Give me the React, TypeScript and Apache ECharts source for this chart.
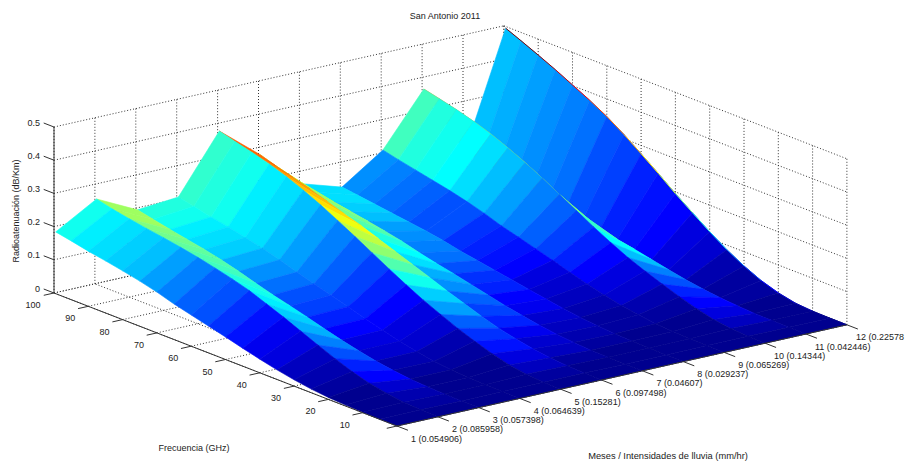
import React, { useEffect, useRef } from "react";
import * as echarts from "echarts";

const title = "San Antonio 2011";
const zName = "Radioatenuación (dB/Km)";
const fName = "Frecuencia (GHz)";
const mName = "Meses / Intensidades de lluvia (mm/hr)";
const months = [1, 2, 3, 4, 5, 6, 7, 8, 9, 10, 11, 12];
const monthLabels = ["1 (0.054906)", "2 (0.085958)", "3 (0.057398)", "4 (0.064639)", "5 (0.15281)", "6 (0.097498)", "7 (0.04607)", "8 (0.029237)", "9 (0.065269)", "10 (0.14344)", "11 (0.042446)", "12 (0.22578"];
const freqTicks = [10, 20, 30, 40, 50, 60, 70, 80, 90, 100];
const zTicks = [0, 0.1, 0.2, 0.3, 0.4, 0.5];
const freqGrid = [0, 5, 10, 15, 20, 25, 30, 35, 40, 45, 50, 55, 60, 65, 70, 75, 80, 85, 90, 95, 99.5];

const month1 = [0, 0, 0.001, 0.003, 0.006, 0.011, 0.019, 0.029, 0.041, 0.054, 0.068, 0.081, 0.094, 0.107, 0.123, 0.136, 0.147, 0.157, 0.166, 0.177, 0.186];
const month2 = [0, 0.001, 0.004, 0.011, 0.021, 0.036, 0.055, 0.076, 0.098, 0.12, 0.14, 0.16, 0.175, 0.188, 0.2, 0.21, 0.219, 0.227, 0.236, 0.246, 0.2575];
const month3 = [0, 0, 0.001, 0.003, 0.006, 0.012, 0.02, 0.031, 0.043, 0.057, 0.072, 0.086, 0.099, 0.114, 0.13, 0.144, 0.156, 0.166, 0.176, 0.187, 0.197];
const month4 = [0, 0.001, 0.001, 0.003, 0.006, 0.012, 0.021, 0.032, 0.046, 0.06, 0.076, 0.09, 0.105, 0.12, 0.137, 0.152, 0.164, 0.176, 0.186, 0.198, 0.208];
const month5 = [0, 0.001, 0.005, 0.013, 0.027, 0.044, 0.063, 0.085, 0.108, 0.134, 0.162, 0.191, 0.22, 0.248, 0.275, 0.299, 0.32, 0.338, 0.353, 0.366, 0.379];
const month6 = [0, 0.001, 0.003, 0.007, 0.014, 0.024, 0.036, 0.052, 0.07, 0.088, 0.108, 0.127, 0.146, 0.165, 0.184, 0.2, 0.218, 0.235, 0.25, 0.265, 0.28];
const month7 = [0, 0, 0.001, 0.002, 0.005, 0.01, 0.017, 0.026, 0.036, 0.048, 0.06, 0.072, 0.083, 0.095, 0.109, 0.12, 0.13, 0.139, 0.148, 0.157, 0.165];
const month8 = [0, 0, 0.001, 0.002, 0.004, 0.008, 0.013, 0.02, 0.028, 0.037, 0.046, 0.055, 0.064, 0.073, 0.084, 0.093, 0.1, 0.107, 0.114, 0.121, 0.127];
const month9 = [0, 0.001, 0.001, 0.003, 0.006, 0.013, 0.021, 0.033, 0.046, 0.061, 0.077, 0.092, 0.107, 0.121, 0.139, 0.154, 0.167, 0.178, 0.189, 0.2, 0.211];
const month10 = [0, 0.001, 0.004, 0.011, 0.024, 0.04, 0.058, 0.077, 0.098, 0.123, 0.15, 0.179, 0.208, 0.237, 0.264, 0.288, 0.31, 0.328, 0.343, 0.356, 0.367];
const month11 = [0, 0, 0.001, 0.002, 0.005, 0.009, 0.015, 0.023, 0.033, 0.044, 0.055, 0.065, 0.076, 0.086, 0.099, 0.11, 0.119, 0.127, 0.134, 0.143, 0.15];
const month12 = [0, 0, 0.001, 0.005, 0.016, 0.033, 0.057, 0.086, 0.12, 0.157, 0.195, 0.236, 0.275, 0.313, 0.347, 0.376, 0.402, 0.428, 0.452, 0.475, 0.495];
const surface = [month1, month2, month3, month4, month5, month6, month7, month8, month9, month10, month11, month12];

const project = (m: number, f: number, z: number): number[] => [
  397 + 40.9 * (m - 1) - 3.43 * f,
  426 - 9.2 * (m - 1) - 1.33 * f - 332 * z,
];

const clamp = (v: number) => Math.max(0, Math.min(1, v));
const jet = (z: number): string => {
  const idx = Math.min(63, Math.floor((z / 0.495) * 64));
  const v = (idx + 1) / 64;
  const r = clamp(Math.min(4 * v - 1.5, -4 * v + 4.5));
  const g = clamp(Math.min(4 * v - 0.5, -4 * v + 3.5));
  const b = clamp(Math.min(4 * v + 0.5, -4 * v + 2.5));
  return `rgb(${Math.round(r * 255)},${Math.round(g * 255)},${Math.round(b * 255)})`;
};
const last = freqGrid.length - 1;
const colorAt = (i: number, j: number) => {
  const falling = i + 1 < surface.length && surface[i + 1][j + 1] < surface[i][j + 1];
  return jet(surface[i][Math.min(j + (falling || i === 11 ? 2 : 1), last)]);
};

const FONT = "9px 'Liberation Sans', Arial, sans-serif";
const TEXT = "#222";

export default function App() {
  const ref = useRef<HTMLDivElement>(null);
  useEffect(() => {
    if (!ref.current) return;
    const chart = echarts.init(ref.current, undefined, { renderer: "svg" });

    const gridLines: number[][] = [];
    const fAll = [0, ...freqTicks];
    months.forEach((m) => {
      gridLines.push([m, 0, 0, m, 100, 0]);
      gridLines.push([m, 100, 0, m, 100, 0.5]);
    });
    fAll.forEach((f) => {
      gridLines.push([1, f, 0, 12, f, 0]);
      gridLines.push([12, f, 0, 12, f, 0.5]);
    });
    zTicks.forEach((z) => {
      gridLines.push([1, 100, z, 12, 100, z]);
      gridLines.push([12, 100, z, 12, 0, z]);
    });

    const quads: number[][] = [];
    for (let i = months.length - 2; i >= 0; i--) {
      for (let j = freqGrid.length - 2; j >= 0; j--) quads.push([i, j]);
    }
    const edge: number[][] = [];
    for (let j = freqGrid.length - 2; j >= 0; j--) edge.push([j]);

    const solid: number[][] = [
      [1, 100, 0, 1, 100, 0.5],
      [1, 100, 0, 1, 0, 0],
      [1, 0, 0, 12, 0, 0],
    ];
    zTicks.forEach((z) => solid.push([1, 100, z, 1, 103, z]));
    [0, ...freqTicks].forEach((f) => solid.push([1, f, 0, 0.75, f, 0]));
    months.forEach((m) => solid.push([m, 0, 0, m, -3.2, 0]));

    const lineItem = (api: any, style: any) => {
      const a = api.coord(project(api.value(0), api.value(1), api.value(2)));
      const b = api.coord(project(api.value(3), api.value(4), api.value(5)));
      return { type: "line", shape: { x1: a[0], y1: a[1], x2: b[0], y2: b[1] }, style, silent: true };
    };

    const labels: any[] = [];
    zTicks.forEach((z) => {
      const p = project(1, 100, z);
      labels.push({ text: String(z), x: p[0] - 14, y: p[1] - 4.5, align: "right" });
    });
    freqTicks.forEach((f) => {
      const p = project(1, f, 0);
      labels.push({ text: String(f), x: p[0] - (f === 100 ? 21 : 18), y: p[1] + 12, align: "center" });
    });
    months.forEach((m, i) => {
      const p = project(m, 0, 0);
      labels.push({ text: monthLabels[i], x: p[0] + (m > 9 ? 9 : 14), y: p[1] + 12.5, align: "left" });
    });
    labels.push({ text: fName, x: 194, y: 448, align: "center" });
    labels.push({ text: mName, x: 668, y: 456, align: "center", font: "9.3px 'Liberation Sans', Arial, sans-serif" });

    chart.setOption({
      animation: false,
      backgroundColor: "#fff",
      title: {
        text: title,
        left: 440,
        top: 6,
        textAlign: "center",
        textStyle: { fontFamily: "'Liberation Sans', Arial, sans-serif", fontSize: 9, fontWeight: "normal", color: TEXT },
      },
      grid: { left: 0, right: 0, top: 0, bottom: 0 },
      xAxis: { type: "value", min: 0, max: 907, show: false },
      yAxis: { type: "value", min: 0, max: 462, inverse: true, show: false },
      series: [
        {
          type: "custom",
          coordinateSystem: "cartesian2d",
          clip: false,
          silent: true,
          z: 1,
          data: gridLines,
          renderItem: (_p: any, api: any) =>
            lineItem(api, { stroke: "#333", lineWidth: 1, lineDash: [1, 2] }),
        },
        {
          type: "custom",
          coordinateSystem: "cartesian2d",
          clip: false,
          silent: true,
          z: 2,
          data: quads,
          renderItem: (_p: any, api: any) => {
            const i = api.value(0);
            const j = api.value(1);
            const corners = [
              [i, j],
              [i + 1, j],
              [i + 1, j + 1],
              [i, j + 1],
            ].map(([a, b]) => api.coord(project(months[a], freqGrid[b], surface[a][b])));
            const color = colorAt(i, j);
            return {
              type: "polygon",
              shape: { points: corners },
              style: { fill: color, stroke: color, lineWidth: 0.6 },
              silent: true,
            };
          },
        },
        {
          type: "custom",
          coordinateSystem: "cartesian2d",
          clip: false,
          silent: true,
          z: 3,
          data: edge,
          renderItem: (_p: any, api: any) => {
            const j = api.value(0);
            const a = api.coord(project(12, freqGrid[j], month12[j]));
            const b = api.coord(project(12, freqGrid[j + 1], month12[j + 1]));
            return {
              type: "line",
              shape: { x1: a[0], y1: a[1], x2: b[0], y2: b[1] },
              style: { stroke: colorAt(11, j), lineWidth: 1 },
              silent: true,
            };
          },
        },
        {
          type: "custom",
          coordinateSystem: "cartesian2d",
          clip: false,
          silent: true,
          z: 4,
          data: solid,
          renderItem: (_p: any, api: any) => lineItem(api, { stroke: "#333", lineWidth: 1 }),
        },
        {
          type: "custom",
          coordinateSystem: "cartesian2d",
          clip: false,
          silent: true,
          z: 5,
          data: labels.map((_, idx) => [idx]),
          renderItem: (_p: any, api: any) => {
            const l = labels[api.value(0)];
            const p = api.coord([l.x, l.y]);
            return {
              type: "text",
              x: p[0],
              y: p[1],
              silent: true,
              style: { text: l.text, font: l.font || FONT, fill: TEXT, align: l.align, verticalAlign: "middle" },
            };
          },
        },
      ],
      graphic: [
        {
          type: "text",
          x: 16,
          y: 211,
          rotation: Math.PI / 2,
          silent: true,
          style: { text: zName, font: FONT, fill: TEXT, align: "center", verticalAlign: "middle" },
        },
      ],
    });
    return () => chart.dispose();
  }, []);
  return (
    <div
      ref={ref}
      style={{ position: "absolute", left: 0, top: 0, width: 907, height: 462, overflow: "hidden" }}
    />
  );
}
